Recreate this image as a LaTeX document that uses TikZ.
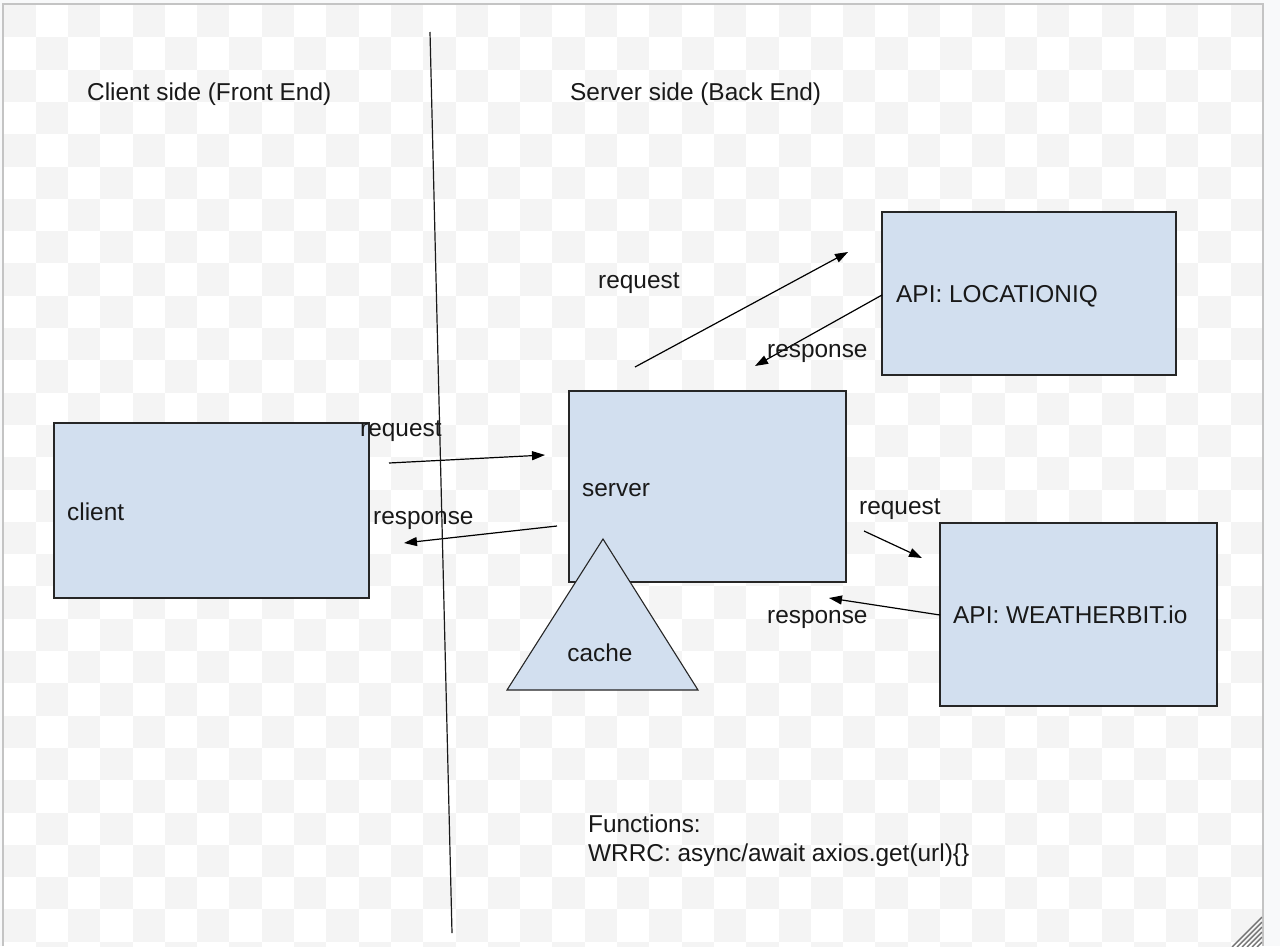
\documentclass[tikz,border=0pt]{standalone}
\usepackage{fontspec}
\setmainfont{Liberation Sans}
\usetikzlibrary{arrows.meta}
\definecolor{boxfill}{HTML}{D2DFEF}
\definecolor{checker}{HTML}{F4F4F4}
\definecolor{outside}{HTML}{F8F9FA}
\definecolor{framegray}{HTML}{C4C4C4}
\tikzset{
  box/.style={draw=black!85, line width=1.1pt, fill=boxfill, inner sep=0pt},
  txt/.style={font=\fontsize{24.4}{29}\selectfont, inner sep=0pt, anchor=base west, text=black!90},
  conn/.style={line width=1.2pt, -{Triangle[length=13pt,width=9pt]}}
}
\begin{document}
\begin{tikzpicture}[x=1pt,y=-1pt]
\useasboundingbox (0,0) rectangle (1280,946);
% background
\fill[outside] (0,0) rectangle (1280,946);
\fill[white] (3,4) rectangle (1263,946);
\begin{scope}
\clip (3,4) rectangle (1263,946);
\foreach \i in {0,...,38}{
  \foreach \j in {0,...,29}{
    \pgfmathtruncatemacro\k{mod(\i+\j,2)}
    \ifnum\k=0
      \fill[checker] ({3.3+32.3*\i},{5+32.3*\j}) rectangle ({3.3+32.3*(\i+1)},{5+32.3*(\j+1)});
    \fi
  }
}
\end{scope}
\draw[framegray, line width=2pt] (3,946) -- (3,4) -- (1263,4) -- (1263,946);
% resize handle
\begin{scope}
\clip (1225,912) rectangle (1262,946);
\foreach \k in {0,...,5}{
  \draw[black!55, line width=1.4pt] ({1232+5*\k},947) -- (1262,{917+5*\k});
}
\end{scope}

% headings
\node[txt] (clienthead) at (87,100) {Client side (Front End)};
\node[txt] (serverhead) at (570,100) {Server side (Back End)};

% divider
\coordinate (divtop) at (430,32);
\coordinate (divbot) at (452,933);

% boxes
\node[box, minimum width=315pt, minimum height=175pt] (client) at (211.5,510.5) {};
\node[txt] (clientlbl) at (67,520) {client};

\node[box, minimum width=277pt, minimum height=191pt] (server) at (707.5,486.5) {};
\node[txt] (serverlbl) at (582,496) {server};

\node[box, minimum width=294pt, minimum height=163pt] (locq) at (1029,293.5) {};
\node[txt] (locqlbl) at (896,302) {API: LOCATIONIQ};

\node[box, minimum width=277pt, minimum height=183pt] (weather) at (1078.5,614.5) {};
\node[txt] (weatherlbl) at (953,623) {API: WEATHERBIT.io};

% cache triangle
\coordinate (capex) at (603,539);
\coordinate (cright) at (698,690);
\coordinate (cleft) at (507,690);
\draw[box] (capex) -- (cright) -- (cleft) -- cycle;
\node[txt, anchor=base] (cachelbl) at (600,661) {cache};

% arrows
\coordinate (a1s) at (389,463); \coordinate (a1e) at (545,455);
\coordinate (a2s) at (557,526); \coordinate (a2e) at (404,543);
\coordinate (a3s) at (635,367); \coordinate (a3e) at (848,252);
\coordinate (a4s) at (882,295); \coordinate (a4e) at (755,366);
\coordinate (a5s) at (864,531); \coordinate (a5e) at (922,558);
\coordinate (a6s) at (940,615); \coordinate (a6e) at (829,598);
\draw[conn] (a1s) -- (a1e);
\draw[conn] (a2s) -- (a2e);
\draw[conn] (a3s) -- (a3e);
\draw[conn] (a4s) -- (a4e);
\draw[conn] (a5s) -- (a5e);
\draw[conn] (a6s) -- (a6e);

\draw[line width=1.2pt, black!90] (divtop) -- (divbot);

% arrow labels
\node[txt] (l1) at (360,436) {request};
\node[txt] (l2) at (373,524) {response};
\node[txt] (l3) at (598,288) {request};
\node[txt] (l4) at (767,357) {response};
\node[txt] (l5) at (859,514) {request};
\node[txt] (l6) at (767,623) {response};

% functions
\node[txt] (fn1) at (588,832) {Functions:};
\node[txt] (fn2) at (588,861) {WRRC: async/await axios.get(url)\{\}};
\end{tikzpicture}
\end{document}
